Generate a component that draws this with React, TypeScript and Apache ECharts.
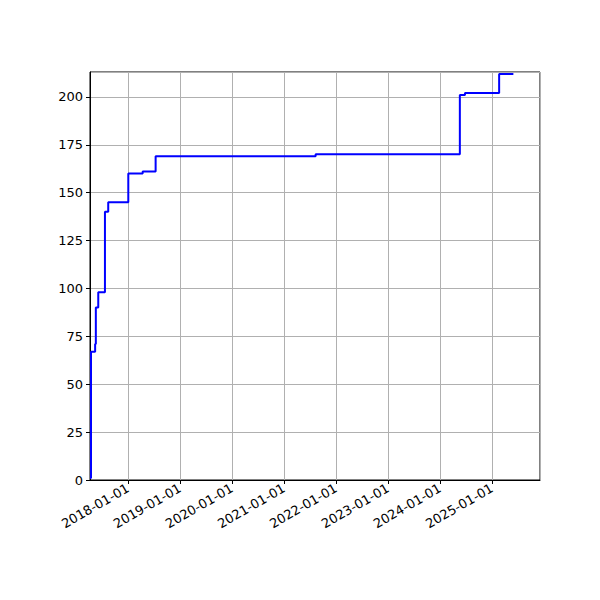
import React, { useEffect, useRef } from 'react';
import * as echarts from 'echarts';

// step points: date of change, new value
const changeDates = [
  '2017-04-09', '2017-04-16', '2017-05-15', '2017-05-20', '2017-06-06',
  '2017-07-23', '2017-08-15', '2018-01-03', '2018-04-14', '2018-07-14',
  '2021-08-11', '2024-05-20', '2024-06-25', '2025-02-20', '2025-05-31',
];
const counts = [1, 67, 71, 90, 98, 140, 145, 160, 161, 169, 170, 201, 202, 212, 212];

const xMin = '2017-04-09';
const xMax = '2025-12-04';
const yMax = 213;
const yStep = 25;

const FONT = 'DejaVu Sans';

const App: React.FC = () => {
  const chartRef = useRef<HTMLDivElement>(null);

  useEffect(() => {
    document.body.style.margin = '0';
    if (!chartRef.current) return;
    const chart = echarts.init(chartRef.current, undefined, { renderer: 'svg' });
    const option = {
      animation: false,
      backgroundColor: '#ffffff',
      grid: {
        left: 90, right: 60, top: 72, bottom: 120,
        show: true, borderColor: '#000', borderWidth: 1, containLabel: false,
      },
      xAxis: {
        type: 'time',
        min: xMin,
        max: xMax,
        splitNumber: 9,
        axisLine: { show: true, lineStyle: { color: '#000', width: 1 } },
        axisTick: { show: true, length: 4, lineStyle: { color: '#000' } },
        minorTick: { show: false },
        splitLine: { show: true, lineStyle: { color: '#b0b0b0', width: 1 } },
        axisLabel: {
          rotate: 30,
          margin: 7,
          color: '#000',
          fontFamily: FONT,
          fontSize: 13,
          hideOverlap: false,
          formatter: (v: number) => {
            const d = new Date(v);
            return d.getMonth() === 0 && d.getDate() === 1
              ? `${d.getFullYear()}-01-01` : '';
          },
        },
      },
      yAxis: {
        type: 'value',
        min: 0,
        max: yMax,
        interval: yStep,
        axisLine: { show: true, lineStyle: { color: '#000', width: 1 } },
        axisTick: { show: true, length: 4, lineStyle: { color: '#000' } },
        splitLine: { show: true, lineStyle: { color: '#b0b0b0', width: 1 } },
        axisLabel: {
          margin: 7,
          color: '#000',
          fontFamily: FONT,
          fontSize: 13,
          showMaxLabel: false,
        },
      },
      series: [
        {
          type: 'line',
          step: 'end',
          data: changeDates.map((d, i) => [d, counts[i]]),
          showSymbol: false,
          lineStyle: { color: '#0000ff', width: 2 },
        },
      ],
    };
    chart.setOption(option);
    return () => chart.dispose();
  }, []);

  return <div ref={chartRef} style={{ width: 600, height: 600 }}></div>;
};

export default App;
